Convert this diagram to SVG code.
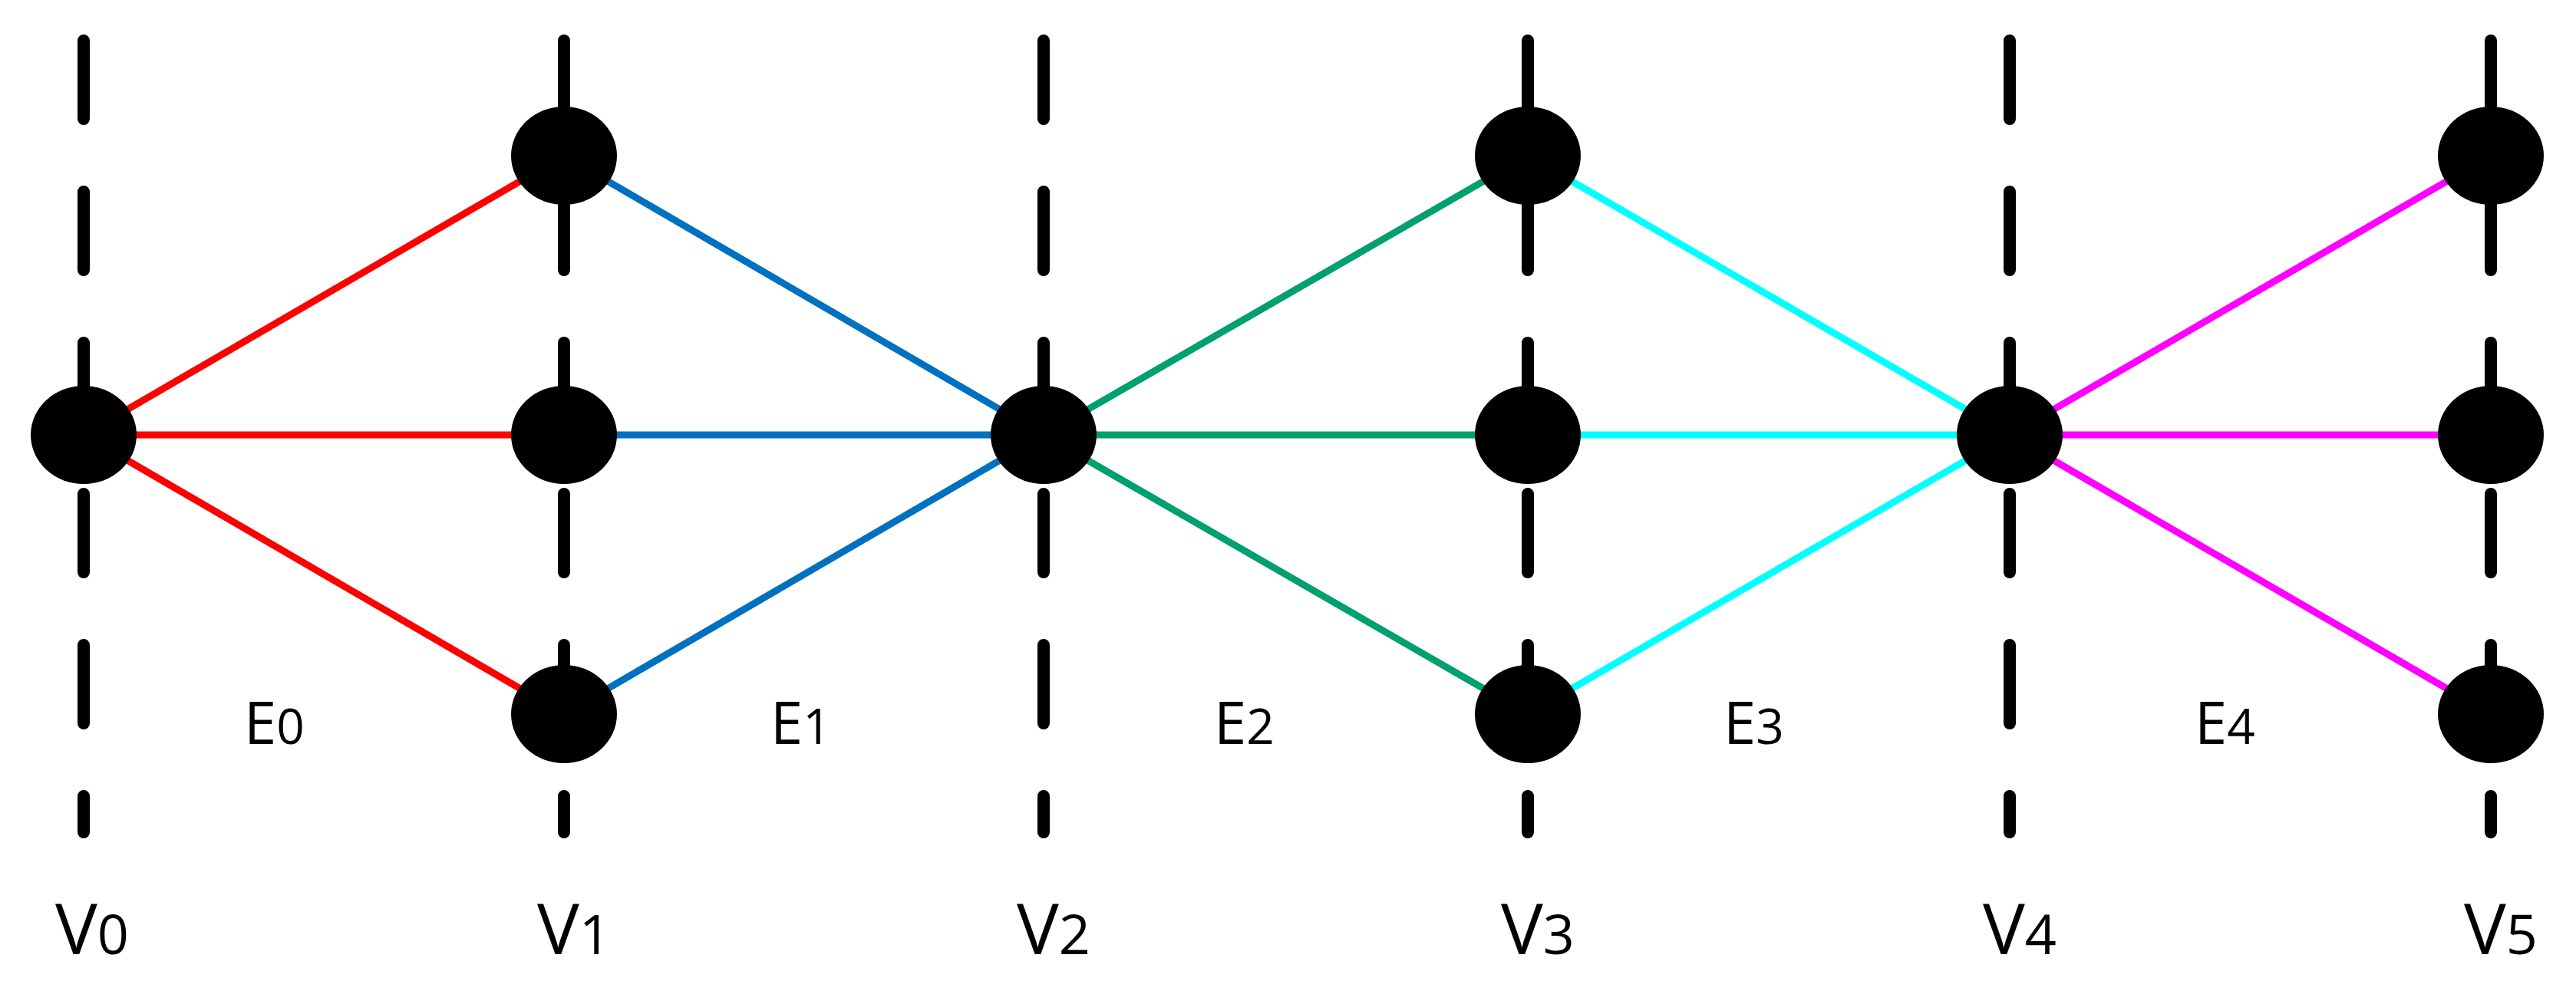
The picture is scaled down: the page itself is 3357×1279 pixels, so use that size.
<svg xmlns="http://www.w3.org/2000/svg" width="3357" height="1279" viewBox="0 0 3357 1279">
<style>
.dash{stroke:#000;stroke-width:16;stroke-linecap:round;stroke-dasharray:102 95;fill:none}
.node{fill:#000}
.e{stroke-width:9;fill:none}
text{font-family:"Open Sans","Liberation Sans",sans-serif;fill:#000}
.el{font-size:76px}
.vl{font-size:92px}
.sub{font-size:64px}
.vsub{font-size:72px}
</style>
<rect width="3357" height="1279" fill="#fff"/>
<g id="axes">
<path class="dash" d="M109 53V1085M735 53V1085M1360 53V1085M1991 53V1085M2619 53V1085M3246 53V1085"/>
</g>
<g id="connectors">
<g stroke="#FF0000" class="e"><path d="M109 567L735 203M109 567H735M109 567L735 931"/></g>
<g stroke="#0070C0" class="e"><path d="M735 203L1360 567M735 567H1360M735 931L1360 567"/></g>
<g stroke="#00A070" class="e"><path d="M1360 567L1991 203M1360 567H1991M1360 567L1991 931"/></g>
<g stroke="#00FFFF" class="e"><path d="M1991 203L2619 567M1991 567H2619M1991 931L2619 567"/></g>
<g stroke="#FF00FF" class="e"><path d="M2619 567L3246 203M2619 567H3246M2619 567L3246 931"/></g>
</g>
<g id="n0m"><ellipse class="node" cx="109" cy="567" rx="69" ry="64"/></g>
<g id="n1t"><ellipse class="node" cx="735" cy="203" rx="69" ry="64"/></g>
<g id="n1m"><ellipse class="node" cx="735" cy="567" rx="69" ry="64"/></g>
<g id="n1b"><ellipse class="node" cx="735" cy="931" rx="69" ry="64"/></g>
<g id="n2m"><ellipse class="node" cx="1360" cy="567" rx="69" ry="64"/></g>
<g id="n3t"><ellipse class="node" cx="1991" cy="203" rx="69" ry="64"/></g>
<g id="n3m"><ellipse class="node" cx="1991" cy="567" rx="69" ry="64"/></g>
<g id="n3b"><ellipse class="node" cx="1991" cy="931" rx="69" ry="64"/></g>
<g id="n4m"><ellipse class="node" cx="2619" cy="567" rx="69" ry="64"/></g>
<g id="n5t"><ellipse class="node" cx="3246" cy="203" rx="69" ry="64"/></g>
<g id="n5m"><ellipse class="node" cx="3246" cy="567" rx="69" ry="64"/></g>
<g id="n5b"><ellipse class="node" cx="3246" cy="931" rx="69" ry="64"/></g>
<g id="elabels">
<text class="el" x="318" y="970">E<tspan class="sub">0</tspan></text>
<text class="el" x="1004" y="970">E<tspan class="sub">1</tspan></text>
<text class="el" x="1582" y="970">E<tspan class="sub">2</tspan></text>
<text class="el" x="2246" y="970">E<tspan class="sub">3</tspan></text>
<text class="el" x="2860" y="970">E<tspan class="sub">4</tspan></text>
</g>
<g id="vlabels">
<text class="vl" x="72" y="1244">V<tspan class="vsub">0</tspan></text>
<text class="vl" x="700" y="1244">V<tspan class="vsub">1</tspan></text>
<text class="vl" x="1325" y="1244">V<tspan class="vsub">2</tspan></text>
<text class="vl" x="1956" y="1244">V<tspan class="vsub">3</tspan></text>
<text class="vl" x="2584" y="1244">V<tspan class="vsub">4</tspan></text>
<text class="vl" x="3211" y="1244">V<tspan class="vsub">5</tspan></text>
</g>
</svg>
